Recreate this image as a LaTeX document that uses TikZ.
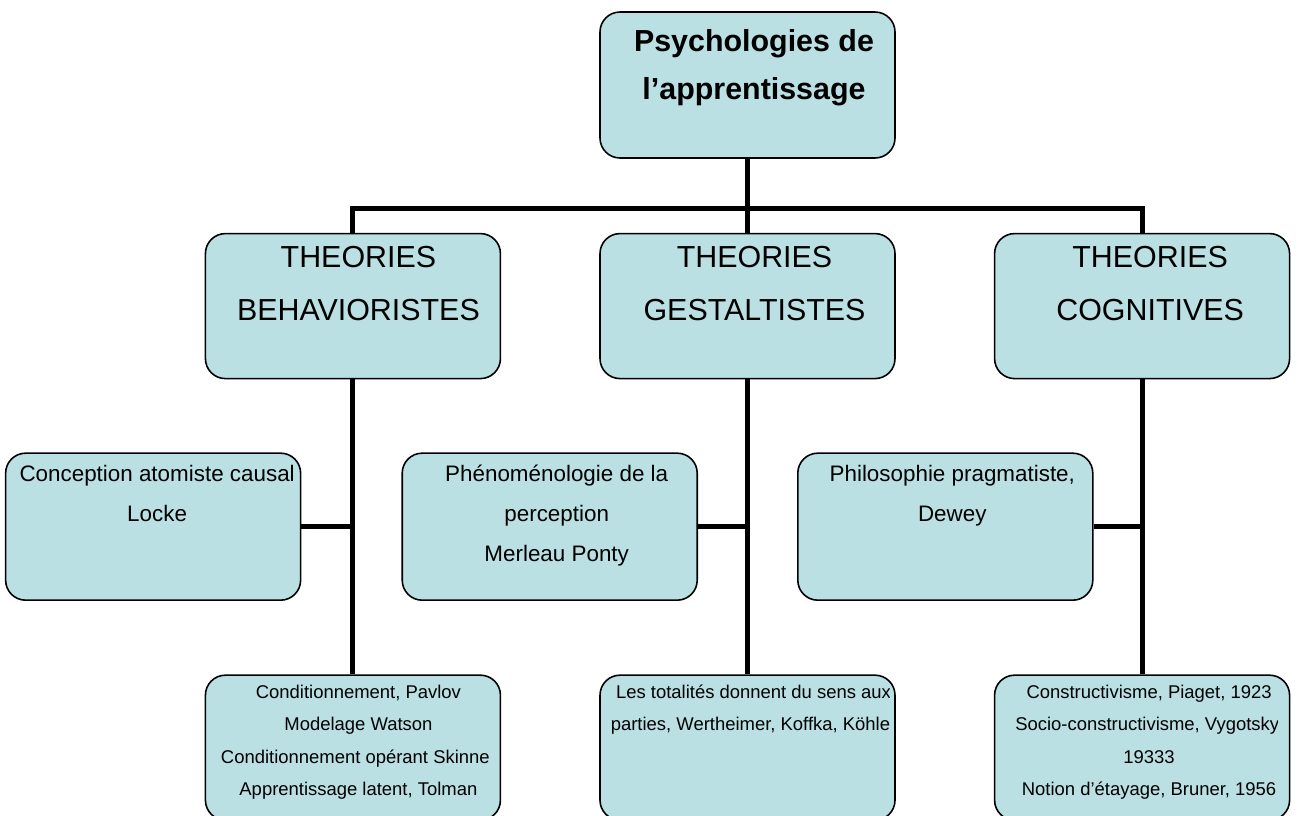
\documentclass[tikz,border=0pt]{standalone}
\usepackage{fontspec}
\setmainfont{Liberation Sans}
\usetikzlibrary{positioning, calc}

\definecolor{boxfill}{RGB}{186,224,227}
\newcommand{\boxlines}[3]{\parbox[t]{9cm}{\centering\fontsize{#1}{#2}\selectfont #3\par}}

\begin{document}
\begin{tikzpicture}

% Define styles for the tree
\tikzstyle{topic} = [rectangle, rounded corners=0.4cm, minimum width=5.9cm, minimum height=2.9cm, draw=black, line width=0.9pt, fill=boxfill]
\tikzstyle{side} = [topic, minimum height=2.94cm]
\tikzstyle{boxtext} = [anchor=base, inner sep=0pt]
\tikzstyle{link} = [line width=2.8pt]

\useasboundingbox (0,0) rectangle (25.96,-16.3);

% Boxes
\node (root) [topic, minimum height=2.92cm] at (14.95,-1.7) {};
\node (gest) [topic, below=1.48cm of root] {};
\node (behav) [topic, left=1.96cm of gest] {};
\node (cogn) [topic, right=1.96cm of gest] {};
\node (atom) [side, below=1.46cm of behav.south west, xshift=-1.03cm] {};
\node (phen) [side, below=1.46cm of gest.south west, xshift=-0.99cm] {};
\node (prag) [side, below=1.46cm of cogn.south west, xshift=-0.97cm] {};
\node (behavb) [topic, below=5.9cm of behav] {};
\node (gestb) [topic, below=5.9cm of gest] {};
\node (cognb) [topic, below=5.9cm of cogn] {};

% Texts
\node (rootT) [boxtext] at ($(root.north)+(0.13,-0.8)$) {\boxlines{17.3}{27.2}{\bfseries Psychologies de\\l’apprentissage}};
\node (behavT) [boxtext] at ($(behav.north)+(0.11,-0.7)$) {\boxlines{17.3}{30}{THEORIES\\BEHAVIORISTES}};
\node (gestT) [boxtext] at ($(gest.north)+(0.14,-0.7)$) {\boxlines{17.3}{30}{THEORIES\\GESTALTISTES}};
\node (cognT) [boxtext] at ($(cogn.north)+(0.16,-0.7)$) {\boxlines{17.3}{30}{THEORIES\\COGNITIVES}};
\node (atomT) [boxtext] at ($(atom.north)+(0.08,-0.58)$) {\boxlines{12.75}{22.7}{Conception atomiste causal\\Locke}};
\node (phenT) [boxtext] at ($(phen.north)+(0.14,-0.58)$) {\boxlines{12.75}{22.7}{Phénoménologie de la\\perception\\Merleau Ponty}};
\node (pragT) [boxtext] at ($(prag.north)+(0.14,-0.58)$) {\boxlines{12.75}{22.7}{Philosophie pragmatiste,\\Dewey}};
\begin{scope}
\clip (behavb.north west) rectangle ($(behavb.south east)+(-0.23,0)$);
\node (behavbT) [boxtext] at ($(behavb.north)+(0.11,-0.48)$) {\boxlines{10.5}{18.4}{Conditionnement, Pavlov\\Modelage Watson\\Conditionnement opérant Skinner\\Apprentissage latent, Tolman}};
\end{scope}
\begin{scope}
\clip (gestb.north west) rectangle ($(gestb.south east)+(-0.12,0)$);
\node (gestbT) [boxtext] at ($(gestb.north)+(0.12,-0.48)$) {\boxlines{10.5}{18.4}{Les totalités donnent du sens aux\\parties, Wertheimer, Koffka, Köhler}};
\end{scope}
\begin{scope}
\clip (cognb.north west) rectangle ($(cognb.south east)+(-0.26,0)$);
\node (cognbT) [boxtext] at ($(cognb.north)+(0.14,-0.48)$) {\boxlines{10.5}{18.4}{Constructivisme, Piaget, 1923\\Socio-constructivisme, Vygotsky,\\19333\\Notion d’étayage, Bruner, 1956}};
\end{scope}

% Connectors
\draw [link] (root.south) -- (gest.north);
\draw [link] (behav.north) -- ++(0,0.48) -| (cogn.north);
\draw [link] (behav.south) -- (behavb.north);
\draw [link] (gest.south) -- (gestb.north);
\draw [link] (cogn.south) -- (cognb.north);
\draw [link] (atom.east) -- (atom.east -| behav.south);
\draw [link] (phen.east) -- (phen.east -| gest.south);
\draw [link] (prag.east) -- (prag.east -| cogn.south);

\end{tikzpicture}
\end{document}
